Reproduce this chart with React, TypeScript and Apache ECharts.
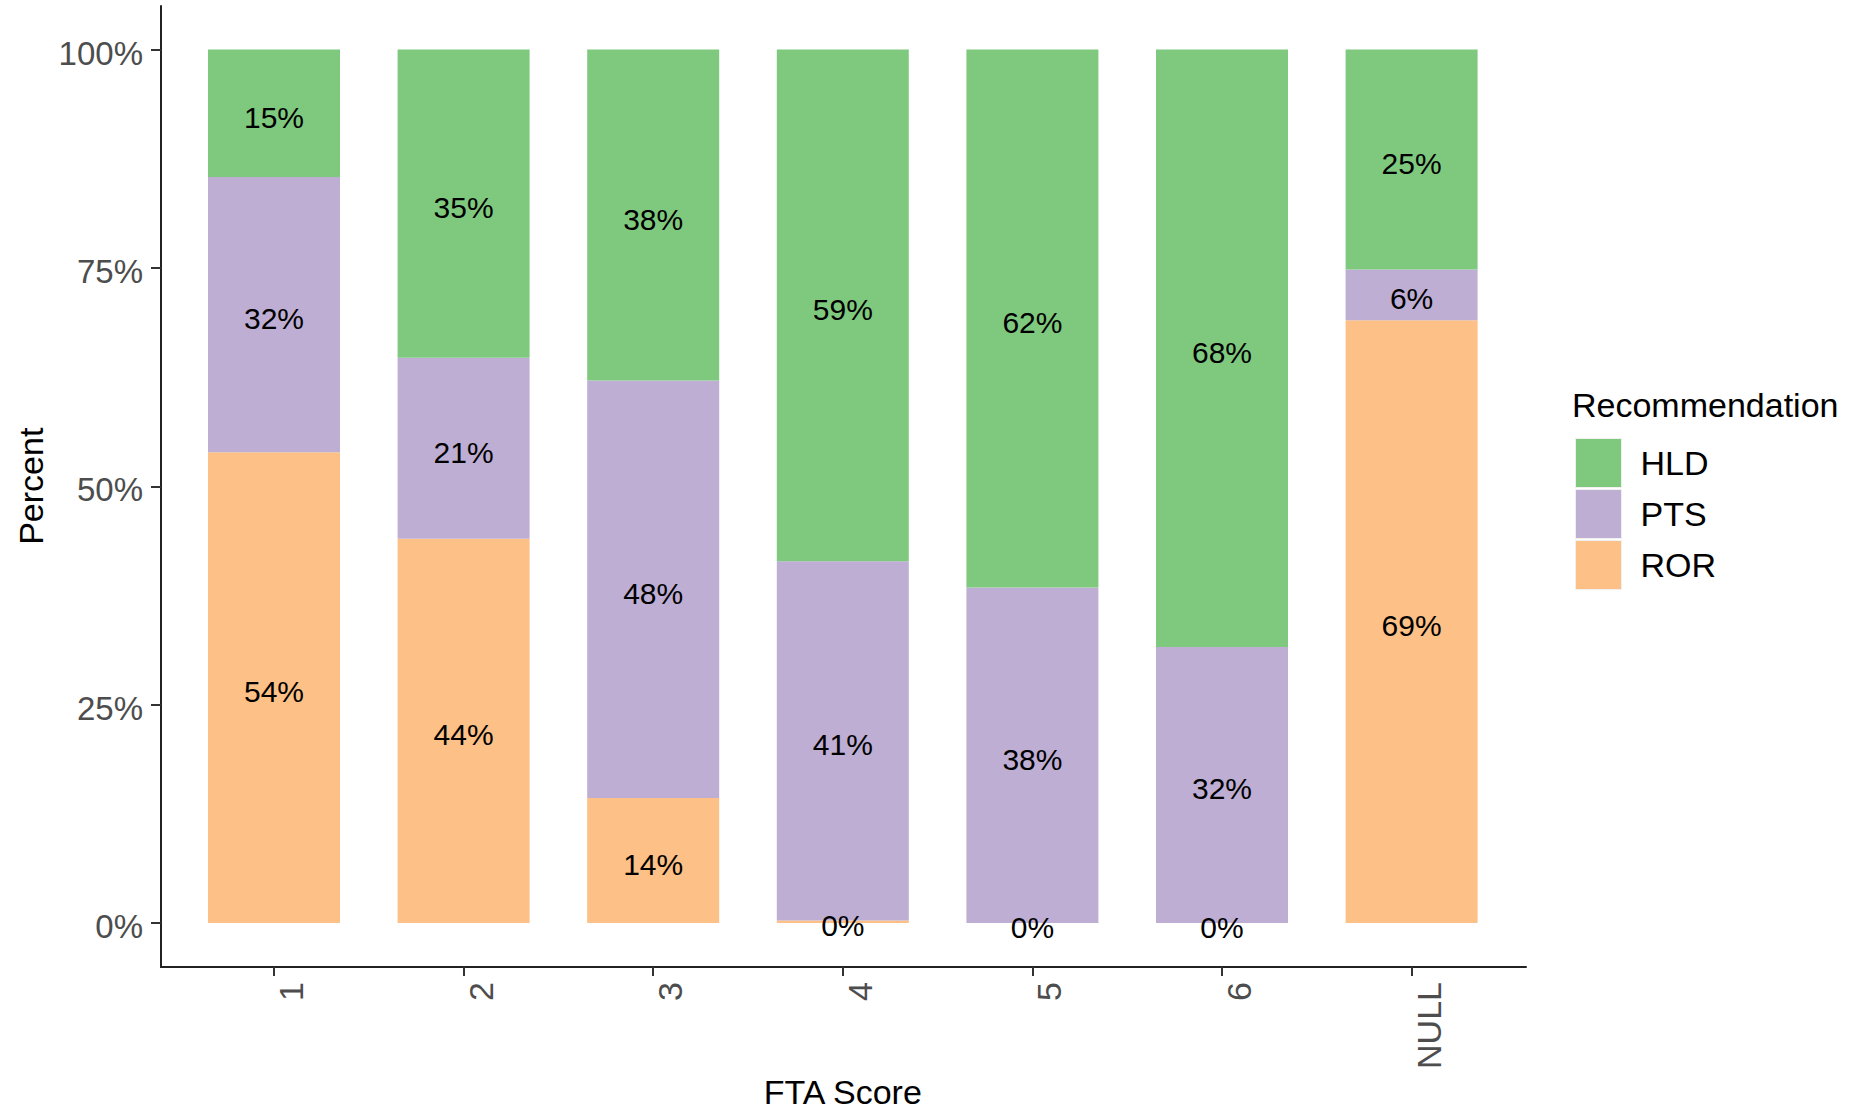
import React, { useEffect, useRef } from "react";
import * as echarts from "echarts";

const categories = ["1", "2", "3", "4", "5", "6", "NULL"];
const rorValues = [53.9, 44.0, 14.3, 0.3, 0, 0, 69.0];
const ptsValues = [31.5, 20.7, 47.8, 41.1, 38.4, 31.6, 5.8];
const hldValues = [14.6, 35.3, 37.9, 58.6, 61.6, 68.4, 25.2];
const yTicks = [0, 25, 50, 75, 100];

const FONT = "'Liberation Sans', Arial, sans-serif";
const COLORS: Record<string, string> = { HLD: "#7FC97F", PTS: "#BEAED4", ROR: "#FDC086" };

export default function App() {
  const ref = useRef<HTMLDivElement>(null);
  useEffect(() => {
    if (!ref.current) return;
    const chart = echarts.init(ref.current, null, { renderer: "svg" });
    const mkSeries = (name: string, data: number[]) => ({
      name,
      type: "bar",
      stack: "total",
      xAxisIndex: 0,
      yAxisIndex: 0,
      barWidth: 132,
      data,
      itemStyle: { color: COLORS[name] },
      label: {
        show: true,
        position: "inside",
        offset: [0, 4],
        formatter: (p: any) => `${Math.round(p.value)}%`,
        fontSize: 30,
        color: "#000",
        fontFamily: FONT,
        textBorderWidth: 0,
      },
      emphasis: { disabled: true },
    });
    const hiddenValueAxis = (gridIndex: number) => ({
      type: "value",
      gridIndex,
      min: 0,
      max: 1,
      show: false,
    });
    chart.setOption({
      animation: false,
      textStyle: { fontFamily: FONT },
      title: {
        text: "Recommendation",
        left: 1572,
        top: 388,
        padding: 0,
        textStyle: { fontSize: 34, fontWeight: "normal", color: "#000", fontFamily: FONT },
      },
      legend: {
        data: ["HLD", "PTS", "ROR"],
        orient: "vertical",
        left: 1575,
        top: 438,
        padding: 0,
        itemWidth: 46,
        itemHeight: 49,
        itemGap: 1,
        icon: "rect",
        selectedMode: false,
        itemStyle: { borderColor: "#f0f0f0", borderWidth: 1 },
        textStyle: { fontSize: 34, color: "#000", fontFamily: FONT, padding: [0, 0, 0, 14] },
      },
      grid: [
        { left: 179.2, top: 49.5, width: 1327.2, height: 873.5, containLabel: false },
        { left: 161, top: 6, width: 1365, height: 961, containLabel: false },
        { left: 196.2, top: 49.5, width: 1327.2, height: 873.5, containLabel: false },
        { left: 179.2, top: 53, width: 1327.2, height: 873.5, containLabel: false },
      ],
      xAxis: [
        {
          type: "category",
          gridIndex: 0,
          data: categories,
          offset: 44,
          axisLine: { show: false, onZero: false },
          axisTick: { show: true, alignWithLabel: true, length: 9, lineStyle: { color: "#333", width: 2 } },
          axisLabel: { show: false },
          splitLine: { show: false },
          name: "FTA Score",
          nameLocation: "middle",
          nameGap: 108,
          nameTextStyle: { fontSize: 34, color: "#000", fontFamily: FONT },
        },
        {
          type: "value",
          gridIndex: 1,
          min: 0,
          max: 1,
          axisLine: { show: true, onZero: false, lineStyle: { color: "#222", width: 2 } },
          axisTick: { show: false },
          axisLabel: { show: false },
          splitLine: { show: false },
        },
        {
          type: "category",
          gridIndex: 2,
          data: categories,
          offset: 44,
          axisLine: { show: false, onZero: false },
          axisTick: { show: false },
          axisLabel: {
            interval: 0,
            rotate: 90,
            margin: 15,
            fontSize: 34,
            color: "#4D4D4D",
            fontFamily: FONT,
          },
          splitLine: { show: false },
        },
        hiddenValueAxis(3),
      ],
      yAxis: [
        {
          type: "value",
          gridIndex: 0,
          min: yTicks[0],
          max: yTicks[yTicks.length - 1],
          interval: 25,
          offset: 18.2,
          axisLine: { show: false },
          axisTick: { show: true, length: 10, lineStyle: { color: "#333", width: 2 } },
          axisLabel: { show: false },
          splitLine: { show: false },
          name: "Percent",
          nameLocation: "middle",
          nameGap: 113,
          nameTextStyle: { fontSize: 34, color: "#000", fontFamily: FONT },
        },
        {
          type: "value",
          gridIndex: 1,
          min: 0,
          max: 1,
          axisLine: { show: true, onZero: false, lineStyle: { color: "#222", width: 2 } },
          axisTick: { show: false },
          axisLabel: { show: false },
          splitLine: { show: false },
        },
        hiddenValueAxis(2),
        {
          type: "value",
          gridIndex: 3,
          min: yTicks[0],
          max: yTicks[yTicks.length - 1],
          interval: 25,
          offset: 18.2,
          axisLine: { show: false },
          axisTick: { show: false },
          axisLabel: {
            formatter: "{value}%",
            margin: 18,
            fontSize: 33,
            color: "#4D4D4D",
            fontFamily: FONT,
          },
          splitLine: { show: false },
        },
      ],
      series: [mkSeries("ROR", rorValues), mkSeries("PTS", ptsValues), mkSeries("HLD", hldValues)],
    });
    return () => chart.dispose();
  }, []);
  return (
    <div
      ref={ref}
      style={{ position: "fixed", left: 0, top: 0, width: 1870, height: 1117, background: "#fff" }}
    />
  );
}
